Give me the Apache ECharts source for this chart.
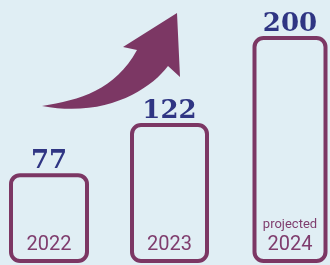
<!DOCTYPE html>
<html>
<head>
<meta charset="utf-8">
<script src="https://cdn.jsdelivr.net/npm/echarts@6/dist/echarts.min.js"></script>
<style>
  html, body { margin: 0; padding: 0; background: #e0eef4; }
  #main { width: 330px; height: 265px; }
</style>
</head>
<body>
<div id="main"></div>
<script>
// data
var years = ['2022', '2023', '2024'];
var values = [77, 122, 200];
var notes = ['', '', 'projected'];

var purple = '#7c3764';
var navy = '#2f3583';
var barWidths = [76, 75, 71];
// decorative rising arrow (pixel outline)
var arrowPath = 'M42,106 C80,100 115,90 137,50 L123,47 L177,13 L180,77 L168,66 C150,90 105,118 42,106 Z';

var myChart = echarts.init(document.getElementById('main'));

var seriesData = values.map(function (v, i) { return [i, v]; });

myChart.setOption({
	backgroundColor: '#e0eef4',
	animation: false,
	grid: { left: 49, right: 40, top: 38, bottom: 4 },
	xAxis: {
		type: 'category',
		data: years,
		boundaryGap: false,
		show: false
	},
	yAxis: {
		type: 'value',
		min: 0,
		max: 200,
		show: false
	},
	series: [{
		type: 'custom',
		data: seriesData,
		encode: { x: 0, y: 1 },
		renderItem: function (params, api) {
			var i = params.dataIndex;
			var top = api.coord([api.value(0), api.value(1)]);
			var bottom = api.coord([api.value(0), 0]);
			var w = barWidths[i];
			var cx = top[0];
			var children = [{
				type: 'rect',
				shape: { x: cx - w / 2, y: top[1], width: w, height: bottom[1] - top[1], r: 9 },
				style: { fill: 'none', stroke: purple, lineWidth: 4 }
			}, {
				type: 'text',
				x: cx, y: top[1] - 1,
				style: {
					text: String(values[i]),
					align: 'center', verticalAlign: 'bottom',
					font: 'bold 26px "DejaVu Serif"',
					fill: navy
				}
			}, {
				type: 'text',
				x: cx, y: bottom[1] - 16,
				style: {
					text: years[i],
					align: 'center', verticalAlign: 'middle',
					font: '20px Roboto',
					fill: '#7f3d6e'
				}
			}];
			if (notes[i]) {
				children.push({
					type: 'text',
					x: cx, y: bottom[1] - 36,
					style: {
						text: notes[i],
						align: 'center', verticalAlign: 'middle',
						font: '13px Roboto',
						fill: '#7f3d6e'
					}
				});
			}
			if (i === 0) {
				children.push({
					type: 'path',
					shape: { pathData: arrowPath },
					style: { fill: purple }
				});
			}
			return { type: 'group', children: children };
		}
	}]
});
</script>
</body>
</html>
